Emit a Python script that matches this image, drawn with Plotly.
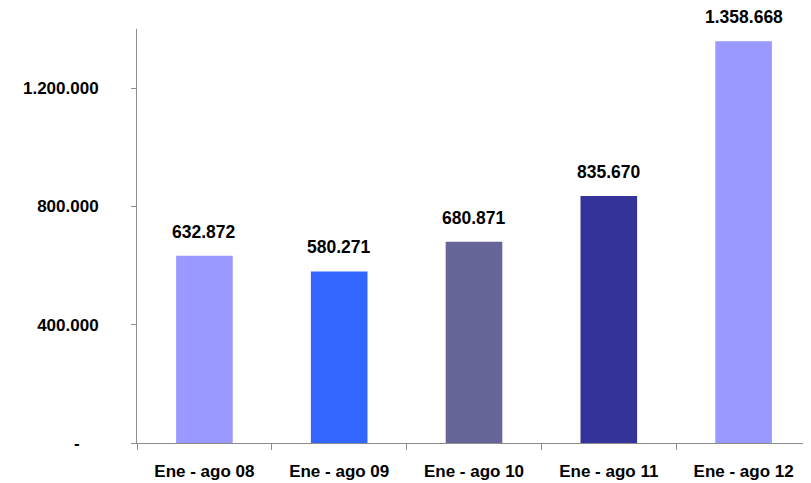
import plotly.graph_objects as go

categories = ["Ene - ago 08", "Ene - ago 09", "Ene - ago 10", "Ene - ago 11", "Ene - ago 12"]
values = [632872, 580271, 680871, 835670, 1358668]
value_labels = ["632.872", "580.271", "680.871", "835.670", "1.358.668"]
bar_colors = ["#9999FF", "#3366FF", "#666699", "#333399", "#9999FF"]
y_tickvals = [0, 400000, 800000, 1200000]
y_ticktext = ["-\u00a0\u00a0\u00a0\u00a0", "400.000", "800.000", "1.200.000"]

FONT = "Liberation Sans, Arial, sans-serif"

fig = go.Figure()
fig.add_trace(go.Bar(
    x=categories, y=values, marker=dict(color=bar_colors, line=dict(width=0)),
    width=0.42, hoverinfo="skip",
))
for c, v, t in zip(categories, values, value_labels):
    fig.add_annotation(x=c, y=v, text="<b>%s</b>" % t, showarrow=False,
                       yanchor="bottom", yshift=12,
                       font=dict(family=FONT, size=17.5, color="#000"))

# page body has an 8px default margin, so the figure is sized to fit the window
fig.update_layout(
    width=803, height=475,
    margin=dict(l=129, r=0, t=21, b=40),
    paper_bgcolor="white", plot_bgcolor="white",
    showlegend=False,
    font=dict(family=FONT, size=17, color="#000"),
)
fig.update_xaxes(
    showline=True, linecolor="#8c8c8c", linewidth=1,
    ticks="outside", tickson="boundaries", ticklen=6, tickcolor="#8c8c8c",
    ticklabelstandoff=13,
    tickfont=dict(family=FONT, size=17, color="#000", weight="bold"),
    showgrid=False, zeroline=False,
)
fig.update_yaxes(
    range=[0, 1400000], tickvals=y_tickvals, ticktext=y_ticktext,
    showline=True, linecolor="#8c8c8c", linewidth=1,
    ticks="outside", ticklen=5, tickcolor="#8c8c8c",
    ticklabelstandoff=29,
    tickfont=dict(family=FONT, size=17, color="#000", weight="bold"),
    showgrid=False, zeroline=False,
)
fig.write_html("out.html")
